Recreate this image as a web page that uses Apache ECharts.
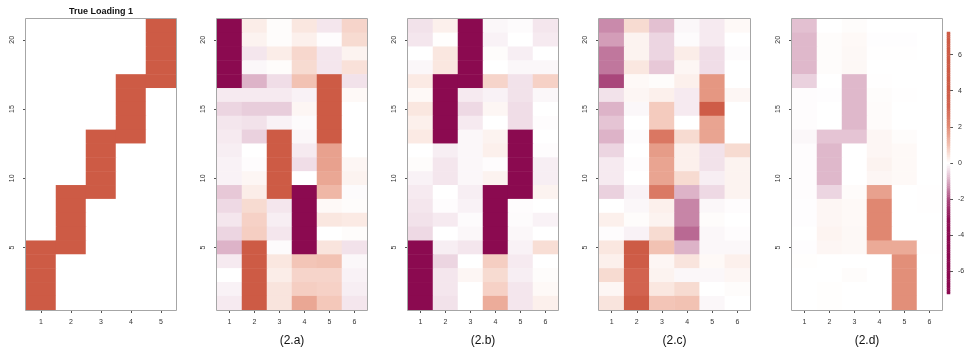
<!DOCTYPE html>
<html>
<head>
<meta charset="utf-8">
<script src="https://cdn.jsdelivr.net/npm/echarts@6/dist/echarts.min.js"></script>
<style>
  html, body { margin: 0; padding: 0; background: #fff; }
  #chart { width: 968px; height: 354px; }
</style>
</head>
<body>
<div id="chart"></div>
<script>
// row / column categories (row 1 at the bottom)
var rowLabels = ['1','2','3','4','5','6','7','8','9','10','11','12','13','14','15','16','17','18','19','20','21'];
var colsTrue = ['1','2','3','4','5'];
var colsEst = ['1','2','3','4','5','6'];
var yTickRows = ['5','10','15','20'];
var cbTicks = [-6, -4, -2, 0, 2, 4, 6];
var panelNames = ['True Loading 1', '(2.a)', '(2.b)', '(2.c)', '(2.d)'];

// loadings, each row listed from row 21 (top) down to row 1
var loadTrue = [
  [0, 0, 0, 0, 7],
  [0, 0, 0, 0, 7],
  [0, 0, 0, 0, 7],
  [0, 0, 0, 0, 7],
  [0, 0, 0, 7, 7],
  [0, 0, 0, 7, 0],
  [0, 0, 0, 7, 0],
  [0, 0, 0, 7, 0],
  [0, 0, 7, 7, 0],
  [0, 0, 7, 0, 0],
  [0, 0, 7, 0, 0],
  [0, 0, 7, 0, 0],
  [0, 7, 7, 0, 0],
  [0, 7, 0, 0, 0],
  [0, 7, 0, 0, 0],
  [0, 7, 0, 0, 0],
  [7, 7, 0, 0, 0],
  [7, 0, 0, 0, 0],
  [7, 0, 0, 0, 0],
  [7, 0, 0, 0, 0],
  [7, 0, 0, 0, 0]
];

var loadA = [
  [-7, 0.3, 0.05, 0.4, -0.3, 0.7],
  [-7, 0.2, 0.05, 0.25, -0.03, 0.6],
  [-7, -0.3, 0.3, 0.65, -0.3, 0.2],
  [-7, -0.1, 0.05, 0.6, -0.3, 0.5],
  [-7, -0.9, -0.4, 1.0, 7, -0.35],
  [-0.25, -0.25, -0.25, -0.15, 7, 0.1],
  [-0.5, -0.6, -0.6, 0.15, 7, 0],
  [-0.3, -0.35, -0.15, -0.05, 7, 0],
  [-0.25, -0.55, 7, -0.1, 7, 0],
  [-0.2, 0, 7, -0.25, 1.6, 0],
  [-0.15, -0.03, 7, -0.4, 1.6, 0.15],
  [-0.15, 0.15, 7, 0, 1.5, 0.2],
  [-0.65, 0.3, 7, -7, 1.2, -0.05],
  [-0.45, 0.6, -0.3, -7, 0.1, 0.05],
  [-0.3, 0.75, -0.2, -7, 0.4, 0.35],
  [-0.5, 0.8, -0.3, -7, 0, 0.05],
  [-0.9, 7, -0.05, -7, 0.45, -0.35],
  [-0.25, 7, 0.4, 0.95, 1.0, -0.1],
  [0, 7, 0.3, 0.7, 0.7, -0.15],
  [-0.15, 7, 0.45, 0.8, 0.75, -0.2],
  [-0.25, 7, 0.45, 1.5, 0.9, -0.3]
];

var loadB = [
  [-0.35, 0.25, -7, -0.1, -0.05, -0.3],
  [-0.3, 0.02, -7, -0.15, 0, -0.25],
  [0, 0.4, -7, 0.05, -0.2, 0],
  [-0.1, 0.4, -7, 0, -0.1, -0.1],
  [0.35, -7, -7, 0.7, -0.35, 0.75],
  [0.1, -7, -0.25, -0.15, -0.35, -0.1],
  [0.4, -7, -0.45, 0.15, -0.4, 0],
  [0.25, -7, -0.25, 0, -0.4, -0.03],
  [0.35, -7, -0.1, 0.2, -7, 0],
  [0, -0.2, -0.1, 0.25, -7, -0.03],
  [0.05, -0.3, -0.1, -0.03, -7, -0.2],
  [-0.15, -0.3, -0.1, 0.2, -7, -0.2],
  [-0.25, 0, -0.2, -7, -7, 0.2],
  [-0.3, -0.03, -0.15, -7, -0.03, 0],
  [-0.35, -0.25, -0.05, -7, -0.05, -0.15],
  [-0.45, 0, -0.1, -7, -0.1, 0],
  [-7, -0.2, -0.3, -7, -0.15, 0.55],
  [-7, -0.5, 0, 0.8, -0.25, 0],
  [-7, -0.3, 0.15, 0.6, -0.2, 0.05],
  [-7, -0.3, 0, 0.75, -0.3, 0.1],
  [-7, -0.35, 0, 1.4, -0.3, 0.25]
];

var loadC = [
  [-1.35, 0.6, -0.75, -0.1, -0.25, 0.1],
  [-1.15, 0.2, -0.5, -0.05, -0.25, 0],
  [-1.55, 0.2, -0.5, 0.3, -0.4, -0.05],
  [-1.55, 0.4, -0.65, 0.15, -0.4, 0],
  [-2.05, 0.1, 0.05, 0.25, 1.8, 0],
  [-0.35, 0.15, 0.25, -0.25, 1.8, 0.15],
  [-0.9, -0.1, 0.85, -0.25, 4, 0],
  [-0.7, 0, 0.85, 0, 1.55, 0],
  [-0.9, -0.05, 2.55, 0.6, 1.55, 0],
  [-0.5, 0, 1.7, 0.25, -0.35, 0.6],
  [-0.25, -0.03, 1.55, 0.25, -0.35, 0.2],
  [-0.25, 0, 1.55, 0.6, -0.2, 0.2],
  [-0.55, -0.15, 2.5, -0.9, -0.45, 0.2],
  [0, -0.1, 0.25, -1.4, -0.1, -0.03],
  [0.25, 0.05, 0.2, -1.4, 0.05, 0],
  [-0.03, -0.15, 0.6, -1.7, -0.1, -0.03],
  [0.4, 4.5, 1.0, -0.9, -0.1, -0.1],
  [0.25, 4, 0.15, 0.45, 0.1, 0.25],
  [0.6, 3.2, 0.2, -0.1, -0.1, 0.15],
  [0.15, 3.2, 0.4, 0.6, 0, 0.05],
  [0.45, 4.5, 0.95, 1.0, -0.1, 0]
];

var loadD = [
  [-0.75, 0, 0.05, 0, 0, 0],
  [-0.85, 0.05, 0.1, -0.02, -0.02, 0],
  [-0.85, 0.05, 0.12, -0.01, -0.01, 0],
  [-0.85, 0.05, 0.12, 0, 0, 0],
  [-0.55, 0, -0.85, -0.01, 0, 0],
  [-0.03, -0.02, -0.85, 0.05, -0.01, 0],
  [-0.03, 0, -0.85, 0.07, 0, 0],
  [-0.03, 0, -0.85, 0.07, 0, 0],
  [-0.1, -0.7, -0.7, 0.15, 0.05, 0],
  [-0.03, -0.85, 0, 0.15, 0.1, 0],
  [-0.03, -0.85, 0, 0.2, 0.1, 0],
  [-0.03, -0.85, 0, 0.15, 0.1, 0],
  [-0.03, -0.5, 0.07, 1.6, 0, -0.01],
  [-0.02, 0.15, 0.1, 2.1, 0, -0.01],
  [-0.02, 0.15, 0.1, 2.1, 0, 0],
  [0, 0.18, 0.12, 2.1, 0, 0],
  [-0.02, 0.15, 0.12, 1.45, 1.45, -0.01],
  [0.02, 0, 0, 0, 1.95, 0],
  [0, 0, 0.05, 0, 1.95, 0],
  [0, 0.02, 0, 0, 1.95, 0],
  [0, 0.02, 0, 0, 1.95, 0]
];

var zMin = -7.25, zMax = 7.25;
// deeppink4 -> white -> coral3, saturating past about +-3
var palette = ['#8b0a50', '#8b0a50', '#8b0a50', '#8b0a50', '#8e1054', '#a8457a', '#d8a8c0', '#ffffff',
               '#f2c0b0', '#e08872', '#d26450', '#cd5b45', '#cd5b45', '#cd5b45', '#cd5b45'];

var gridTop = 19, gridHeight = 291;
var panels = [
  { left: 26, width: 150, cols: colsTrue, rows: loadTrue },
  { left: 217, width: 150, cols: colsEst, rows: loadA },
  { left: 408, width: 150, cols: colsEst, rows: loadB },
  { left: 599, width: 151, cols: colsEst, rows: loadC },
  { left: 792, width: 150, cols: colsEst, rows: loadD }
];
var cbBox = { left: 947, top: 32, width: 3, height: 262 };

function toCells(rows) {
  var out = [];
  rows.forEach(function (row, i) {
    row.forEach(function (v, j) {
      out.push([j, rowLabels.length - 1 - i, v]);
    });
  });
  return out;
}

function showRow(index, value) {
  return yTickRows.indexOf(value) >= 0;
}

var font = 'Liberation Sans';
var grids = [], xAxes = [], yAxes = [], series = [], graphics = [];

panels.forEach(function (p, k) {
  grids.push({ left: p.left, top: gridTop, width: p.width, height: gridHeight });
  xAxes.push({
    type: 'category', gridIndex: k, data: p.cols,
    axisLine: { show: false },
    axisTick: { show: true, alignWithLabel: true, length: 3, lineStyle: { color: '#555' } },
    axisLabel: { fontSize: 7, color: '#333', margin: 9, fontFamily: font },
    splitLine: { show: false }
  });
  yAxes.push({
    type: 'category', gridIndex: k, data: rowLabels,
    axisLine: { show: false },
    axisTick: { show: true, alignWithLabel: true, length: 3, interval: showRow, lineStyle: { color: '#555' } },
    axisLabel: { rotate: 90, interval: showRow, fontSize: 7, color: '#333', margin: 10, fontFamily: font },
    splitLine: { show: false }
  });
  series.push({
    type: 'heatmap', xAxisIndex: k, yAxisIndex: k,
    data: toCells(p.rows),
    progressive: 0,
    emphasis: { disabled: true }
  });
  graphics.push({
    type: 'rect', z: 100, silent: true,
    shape: { x: p.left - 0.5, y: gridTop - 0.5, width: p.width + 1, height: gridHeight + 1 },
    style: { fill: 'none', stroke: '#a6a6a6', lineWidth: 1 }
  });
  var isTitle = k === 0;
  graphics.push({
    type: 'text', silent: true,
    x: p.left + p.width / 2, y: isTitle ? 12 : 341,
    style: {
      text: panelNames[k],
      font: (isTitle ? 'bold 9px ' : '12px ') + '"Liberation Sans"',
      fill: '#111', align: 'center', verticalAlign: 'middle'
    }
  });
});

// colour key on the right
var cbLevels = [], cbCells = [];
var cbSteps = 145;
for (var i = 0; i < cbSteps; i++) {
  cbLevels.push(String(i));
  cbCells.push([0, i, zMin + (i + 0.5) * (zMax - zMin) / cbSteps]);
}
var cbIdx = panels.length;
grids.push(cbBox);
xAxes.push({ type: 'category', gridIndex: cbIdx, data: ['key'], show: false });
yAxes.push({ type: 'category', gridIndex: cbIdx, data: cbLevels, show: false });
yAxes.push({
  type: 'value', gridIndex: cbIdx, position: 'right', min: zMin, max: zMax,
  axisLine: { show: false },
  axisTick: { show: true, length: 3, customValues: cbTicks, lineStyle: { color: '#555' } },
  axisLabel: { customValues: cbTicks, fontSize: 7, color: '#333', margin: 8, fontFamily: font },
  splitLine: { show: false }
});
series.push({
  type: 'heatmap', xAxisIndex: cbIdx, yAxisIndex: cbIdx,
  data: cbCells, progressive: 0, emphasis: { disabled: true }
});

var chart = echarts.init(document.getElementById('chart'));
var option = {
  animation: false,
  backgroundColor: '#fff',
  textStyle: { fontFamily: font },
  grid: grids,
  xAxis: xAxes,
  yAxis: yAxes,
  visualMap: {
    show: false, type: 'continuous', min: zMin, max: zMax,
    seriesIndex: series.map(function (s, i) { return i; }),
    inRange: { color: palette }
  },
  graphic: graphics,
  series: series
};
chart.setOption(option);
</script>
</body>
</html>
